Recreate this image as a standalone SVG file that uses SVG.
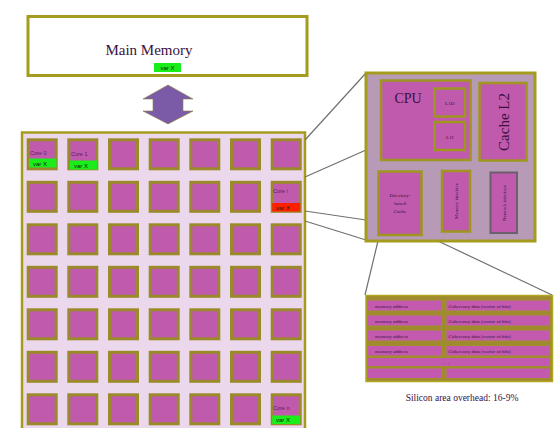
<svg xmlns="http://www.w3.org/2000/svg" xmlns:xlink="http://www.w3.org/1999/xlink" width="555" height="428" viewBox="0 0 555 428">
<style>
.tile{fill:#c05aad;stroke:#9a8a2a;stroke-width:3}
.serif{font-family:"Liberation Serif","Times New Roman",serif;fill:#3a1040}
.tiny{font-family:"Liberation Sans",Arial,sans-serif;font-size:5.5px;fill:#5a2060}
.varx{font-family:"Liberation Sans",Arial,sans-serif;font-size:6px;fill:#102010}
.green{fill:#1aee1a}
.red{fill:#ff2000}
.box{fill:#c05aad;stroke:#9e961e;stroke-width:2.5}
.cell{fill:#c45ab0;stroke:#a0902a;stroke-width:1}
.ttxt{font-family:"Liberation Serif","Times New Roman",serif;font-size:5px;fill:#3a1040}
.conn{stroke:#707070;stroke-width:1.2;fill:none}
</style>
<defs>
<rect id="t" width="28" height="29" class="tile"/>
</defs>
<rect width="555" height="428" fill="#ffffff"/>

<g id="main-memory">
<rect x="28" y="16.5" width="279" height="59" fill="#ffffff" stroke="#a39c1e" stroke-width="3"/>
<text x="149" y="55" class="serif" font-size="15" text-anchor="middle" fill="#333">Main Memory</text>
<rect x="154" y="63" width="27" height="9" class="green"/>
<text x="167.5" y="70" class="varx" text-anchor="middle">var X</text>
</g>

<g id="bus-arrow">
<polygon points="168,85 193,99 183,99 183,111 193,111 168,124 143,111 153,111 153,99 143,99" fill="#7b5aa8" stroke="#8a8040" stroke-width="0.6"/>
</g>

<g id="chip">
<rect x="22" y="132.5" width="283" height="300" fill="#ecd8ec" stroke="#a39c1e" stroke-width="2.5"/>
<use xlink:href="#t" x="109.5" y="139.8"/><use xlink:href="#t" x="150.2" y="139.8"/><use xlink:href="#t" x="190.8" y="139.8"/><use xlink:href="#t" x="231.5" y="139.8"/><use xlink:href="#t" x="272.2" y="139.8"/>
<use xlink:href="#t" x="28.2" y="182.3"/><use xlink:href="#t" x="68.8" y="182.3"/><use xlink:href="#t" x="109.5" y="182.3"/><use xlink:href="#t" x="150.2" y="182.3"/><use xlink:href="#t" x="190.8" y="182.3"/><use xlink:href="#t" x="231.5" y="182.3"/>
<use xlink:href="#t" x="28.2" y="224.8"/><use xlink:href="#t" x="68.8" y="224.8"/><use xlink:href="#t" x="109.5" y="224.8"/><use xlink:href="#t" x="150.2" y="224.8"/><use xlink:href="#t" x="190.8" y="224.8"/><use xlink:href="#t" x="231.5" y="224.8"/><use xlink:href="#t" x="272.2" y="224.8"/>
<use xlink:href="#t" x="28.2" y="267.3"/><use xlink:href="#t" x="68.8" y="267.3"/><use xlink:href="#t" x="109.5" y="267.3"/><use xlink:href="#t" x="150.2" y="267.3"/><use xlink:href="#t" x="190.8" y="267.3"/><use xlink:href="#t" x="231.5" y="267.3"/><use xlink:href="#t" x="272.2" y="267.3"/>
<use xlink:href="#t" x="28.2" y="309.8"/><use xlink:href="#t" x="68.8" y="309.8"/><use xlink:href="#t" x="109.5" y="309.8"/><use xlink:href="#t" x="150.2" y="309.8"/><use xlink:href="#t" x="190.8" y="309.8"/><use xlink:href="#t" x="231.5" y="309.8"/><use xlink:href="#t" x="272.2" y="309.8"/>
<use xlink:href="#t" x="28.2" y="352.3"/><use xlink:href="#t" x="68.8" y="352.3"/><use xlink:href="#t" x="109.5" y="352.3"/><use xlink:href="#t" x="150.2" y="352.3"/><use xlink:href="#t" x="190.8" y="352.3"/><use xlink:href="#t" x="231.5" y="352.3"/><use xlink:href="#t" x="272.2" y="352.3"/>
<use xlink:href="#t" x="28.2" y="394.8"/><use xlink:href="#t" x="68.8" y="394.8"/><use xlink:href="#t" x="109.5" y="394.8"/><use xlink:href="#t" x="150.2" y="394.8"/><use xlink:href="#t" x="190.8" y="394.8"/><use xlink:href="#t" x="231.5" y="394.8"/>
</g>

<g id="core-0">
<use xlink:href="#t" x="28.2" y="139.8"/>
<text x="30" y="155" class="tiny">Core 0</text>
<rect x="29" y="158.5" width="27.5" height="9" class="green"/>
<text x="33" y="165.5" class="varx">var X</text>
</g>
<g id="core-1">
<use xlink:href="#t" x="68.8" y="139.8"/>
<text x="71" y="156" class="tiny">Core 1</text>
<rect x="69.8" y="160.5" width="27.5" height="9" class="green"/>
<text x="74" y="167.5" class="varx">var X</text>
</g>
<g id="core-i">
<use xlink:href="#t" x="272.2" y="182.3"/>
<text x="273" y="193" class="tiny">Core i</text>
<rect x="272.2" y="203" width="28" height="8.5" class="red"/>
<text x="276" y="209.8" class="varx">var X</text>
</g>
<g id="core-n">
<use xlink:href="#t" x="272.2" y="394.8"/>
<text x="273" y="410" class="tiny">Core n</text>
<rect x="272.2" y="415.5" width="28" height="8.5" class="green"/>
<text x="276" y="422.3" class="varx">var X</text>
</g>

<g id="connectors">
<line x1="305" y1="140" x2="366" y2="73" class="conn"/>
<line x1="305" y1="177" x2="366" y2="150" class="conn"/>
<line x1="305" y1="211" x2="366" y2="220" class="conn"/>
<line x1="305" y1="221" x2="366" y2="240" class="conn"/>
<line x1="378" y1="241" x2="365" y2="295" class="conn"/>
<line x1="438" y1="241" x2="552" y2="295" class="conn"/>
</g>

<g id="tile-detail">
<rect x="366" y="73" width="169" height="168" fill="#b69ab6" stroke="#a39c1e" stroke-width="3"/>
<g id="cpu">
<rect x="381" y="80.5" width="89.5" height="79.5" class="box"/>
<text x="408" y="103" class="serif" font-size="14" text-anchor="middle">CPU</text>
</g>
<g id="l1d">
<rect x="434.5" y="88.5" width="30.5" height="28" class="box"/>
<text x="449.7" y="104.5" class="ttxt" text-anchor="middle" font-size="6">L1D</text>
</g>
<g id="l1i">
<rect x="434.5" y="122" width="30.5" height="28" class="box"/>
<text x="449.7" y="138.5" class="ttxt" text-anchor="middle" font-size="7">L1I</text>
</g>
<g id="cache-l2">
<rect x="479.5" y="83" width="47" height="77.5" class="box"/>
<text transform="translate(508.5,122) rotate(-90)" class="serif" font-size="15" text-anchor="middle">Cache L2</text>
</g>
<g id="directory">
<rect x="378.5" y="171.5" width="43" height="63.5" class="box"/>
<text x="400" y="197" class="ttxt" text-anchor="middle">Directory-</text>
<text x="400" y="205" class="ttxt" text-anchor="middle">based</text>
<text x="400" y="213" class="ttxt" text-anchor="middle">Cache</text>
</g>
<g id="memory-interface">
<rect x="442" y="171" width="28" height="60.5" class="box"/>
<text transform="translate(458,201) rotate(-90)" class="ttxt" text-anchor="middle">Memory interface</text>
</g>
<g id="network-interface">
<rect x="490.5" y="172.5" width="26.5" height="60.5" fill="#c05aad" stroke="#6e5f6e" stroke-width="2"/>
<text transform="translate(505.5,203) rotate(-90)" class="ttxt" text-anchor="middle">Network interface</text>
</g>
</g>

<g id="directory-table">
<rect x="366" y="295.5" width="186.5" height="86" fill="#a08a30" stroke="#b0a820" stroke-width="1.5"/>
<rect x="367.5" y="300" width="75" height="11" class="cell"/>
<rect x="446" y="300" width="104" height="11" class="cell"/>
<rect x="367.5" y="315" width="75" height="11" class="cell"/>
<rect x="446" y="315" width="104" height="11" class="cell"/>
<rect x="367.5" y="330" width="75" height="11" class="cell"/>
<rect x="446" y="330" width="104" height="11" class="cell"/>
<rect x="367.5" y="345.5" width="75" height="10.5" class="cell"/>
<rect x="446" y="345.5" width="104" height="10.5" class="cell"/>
<rect x="367.5" y="357.5" width="182.5" height="9" class="cell"/>
<rect x="367.5" y="368" width="75" height="10.5" class="cell"/>
<rect x="446" y="368" width="104" height="10.5" class="cell"/>
<text x="375" y="307.5" class="ttxt">memory address</text>
<text x="375" y="322.5" class="ttxt">memory address</text>
<text x="375" y="337.5" class="ttxt">memory address</text>
<text x="375" y="353" class="ttxt">memory address</text>
<text x="448.5" y="307.5" class="ttxt">Coherency data (vector of bits)</text>
<text x="448.5" y="322.5" class="ttxt">Coherency data (vector of bits)</text>
<text x="448.5" y="337.5" class="ttxt">Coherency data (vector of bits)</text>
<text x="448.5" y="353" class="ttxt">Coherency data (vector of bits)</text>
<text x="446" y="364" class="ttxt" text-anchor="middle">. . .</text>
</g>

<text x="462" y="401" class="serif" font-size="9.5" text-anchor="middle" fill="#222">Silicon area overhead: 16-9%</text>
</svg>
